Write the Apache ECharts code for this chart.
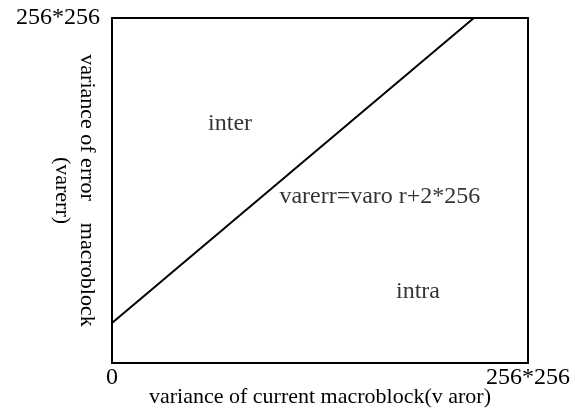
<!DOCTYPE html>
<html lang="en">
<head>
  <meta charset="UTF-8">
  <title>inter / intra decision</title>
  <script src="https://cdn.jsdelivr.net/npm/echarts@6/dist/echarts.min.js"></script>
  <style>
    html, body { margin: 0; padding: 0; background: #fff; }
    #chart { width: 575px; height: 409px; }
  </style>
</head>
<body>
  <div id="chart"></div>
  <script>
    // axis range 0 .. 256*256
    var axisMax = 65536;
    var tickLabelsX = ['0', '256*256'];
    var tickLabelsY = ['', '256*256'];
    // decision line varerr = varor + 2*256 (drawn as in the figure, not to scale)
    var lineX = [0, 57000];
    var lineY = [7600, 65536];
    // region annotations
    var noteNames = ['inter', 'varerr=varo r+2*256', 'intra'];
    var noteX = [18600, 42200, 48200];
    var noteY = [45400, 31500, 13500];

    var font = 'Liberation Serif';

    var lineData = [];
    for (var i = 0; i < lineX.length; i++) lineData.push([lineX[i], lineY[i]]);
    var noteData = [];
    for (var j = 0; j < noteNames.length; j++) {
      noteData.push({ name: noteNames[j], value: [noteX[j], noteY[j]] });
    }

    var myChart = echarts.init(document.getElementById('chart'), null, { renderer: 'canvas' });
    var opt = {
      animation: false,
      backgroundColor: '#fff',
      grid: {
        left: 112, right: 47, top: 18, bottom: 46,
        containLabel: false, outerBoundsMode: 'none',
        show: true, borderColor: '#000', borderWidth: 2
      },
      xAxis: {
        type: 'value', min: 0, max: axisMax, interval: axisMax,
        axisLine: { show: true, lineStyle: { color: '#000', width: 2 } },
        axisTick: { show: false },
        splitLine: { show: false },
        axisLabel: {
          margin: 3, color: '#000', fontFamily: font, fontSize: 24,
          formatter: function (v) { return v === 0 ? tickLabelsX[0] : tickLabelsX[1]; }
        },
        name: 'variance of current macroblock(v aror)',
        nameLocation: 'middle', nameGap: 23, nameMoveOverlap: false,
        nameTextStyle: { color: '#000', fontFamily: font, fontSize: 22 }
      },
      yAxis: {
        type: 'value', min: 0, max: axisMax, interval: axisMax,
        axisLine: { show: true, lineStyle: { color: '#000', width: 2 } },
        axisTick: { show: false },
        splitLine: { show: false },
        axisLabel: {
          margin: 12, color: '#000', fontFamily: font, fontSize: 24,
          padding: [7, 0, 0, 0],
          formatter: function (v) { return v === 0 ? tickLabelsY[0] : tickLabelsY[1]; }
        },
        name: 'variance of error    macroblock\n(varerr)',
        nameLocation: 'middle', nameGap: 13, nameRotate: -90, nameMoveOverlap: false,
        nameTextStyle: { color: '#000', fontFamily: font, fontSize: 22, lineHeight: 25 }
      },
      series: [
        {
          type: 'line', data: lineData, symbol: 'none',
          lineStyle: { color: '#000', width: 2 }
        },
        {
          type: 'scatter', data: noteData, symbolSize: 0,
          label: {
            show: true, position: 'inside', formatter: '{b}',
            color: '#000', fontFamily: font, fontSize: 24
          }
        }
      ]
    };
    myChart.setOption(opt);
  </script>
</body>
</html>
